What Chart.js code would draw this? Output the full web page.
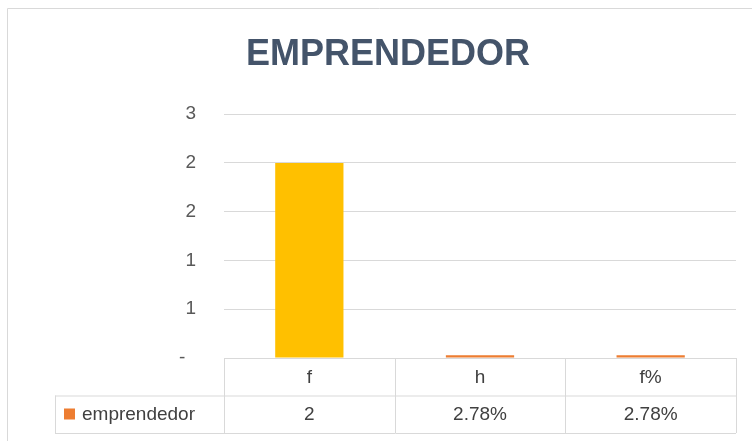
<!DOCTYPE html>
<html>
<head>
<meta charset="utf-8">
<script src="https://cdn.jsdelivr.net/npm/chart.js@4/dist/chart.umd.min.js"></script>
<style>
  html, body { margin: 0; padding: 0; background: #fff; }
  #wrap { width: 752px; height: 441px; }
</style>
</head>
<body>
<div id="wrap"><canvas id="emprendedorChart" width="752" height="441"></canvas></div>
<script>
// data
const categories = ['f', 'h', 'f%'];
const seriesName = 'emprendedor';
const values = [2, 0.0278, 0.0278];
const tableValues = ['2', '2.78%', '2.78%'];
const yTicks = [0, 0.5, 1, 1.5, 2, 2.5];

const FONT = "'Liberation Sans', Arial, sans-serif";
const gridColor = '#D9D9D9';
const barColors = ['#FFC000', '#ED7D31', '#ED7D31'];

// draws the frame and the data table under the plot (Excel style)
const dataTable = {
  id: 'dataTable',
  beforeDraw(chart) {
    const c = chart.ctx;
    c.save();
    c.strokeStyle = '#D9D9D9';
    c.lineWidth = 1;
    c.beginPath();
    c.moveTo(7.5, 441);
    c.lineTo(7.5, 8.5);
    c.lineTo(752, 8.5);
    c.stroke();
    c.restore();
  },
  afterDraw(chart) {
    const c = chart.ctx;
    const x = chart.scales.x;
    const area = chart.chartArea;
    const rowH = 37.5;
    const top = area.bottom;
    const mid = top + rowH;
    const bot = mid + rowH;
    const legendLeft = 55;
    const colW = (area.right - area.left) / categories.length;

    c.save();
    c.strokeStyle = gridColor;
    c.lineWidth = 1;
    c.beginPath();
    c.moveTo(area.left, top + 0.5); c.lineTo(area.right, top + 0.5);
    c.moveTo(legendLeft, mid + 0.5); c.lineTo(area.right, mid + 0.5);
    c.moveTo(legendLeft, bot + 0.5); c.lineTo(area.right, bot + 0.5);
    c.moveTo(legendLeft + 0.5, mid); c.lineTo(legendLeft + 0.5, bot);
    for (let i = 0; i <= categories.length; i++) {
      const lx = Math.round(area.left + i * colW) + 0.5;
      c.moveTo(lx, top); c.lineTo(lx, bot);
    }
    c.stroke();

    c.font = '19px ' + FONT;
    c.fillStyle = '#404040';
    c.textAlign = 'center';
    c.textBaseline = 'middle';
    categories.forEach((cat, i) => {
      const cx = x.getPixelForValue(i);
      c.fillText(cat, cx, top + rowH / 2 + 1);
      c.fillText(tableValues[i], cx, mid + rowH / 2 + 1);
    });

    // legend key
    c.fillStyle = barColors[1];
    c.fillRect(64, mid + 13, 11, 11);
    c.fillStyle = '#404040';
    c.textAlign = 'left';
    c.fillText(seriesName, 82, mid + rowH / 2 + 1);
    c.restore();
  }
};

new Chart(document.getElementById('emprendedorChart'), {
  type: 'bar',
  data: {
    labels: categories,
    datasets: [{
      label: seriesName,
      data: values,
      backgroundColor: barColors,
      borderWidth: 0,
      categoryPercentage: 1,
      barPercentage: 0.4
    }]
  },
  options: {
    responsive: false,
    animation: false,
    layout: { padding: { left: 40, right: 16, top: 0, bottom: 75 } },
    plugins: {
      legend: { display: false },
      tooltip: { enabled: false },
      title: {
        display: true,
        text: 'EMPRENDEDOR',
        color: '#44546A',
        font: { family: FONT, size: 36, weight: 'bold' },
        padding: { top: 33, bottom: 38 }
      }
    },
    scales: {
      x: {
        grid: { display: false },
        border: { display: false },
        ticks: { display: false }
      },
      y: {
        min: 0,
        max: 2.5,
        afterFit(scale) { scale.width = 184; },
        afterBuildTicks(scale) { scale.ticks = yTicks.map(v => ({ value: v })); },
        grid: { color: gridColor, drawTicks: false },
        border: { display: false },
        ticks: {
          padding: 28,
          color: '#595959',
          font: { family: FONT, size: 19 },
          callback: v => v === 0 ? '-  ' : String(Math.round(v))
        }
      }
    }
  },
  plugins: [dataTable]
});
</script>
</body>
</html>
